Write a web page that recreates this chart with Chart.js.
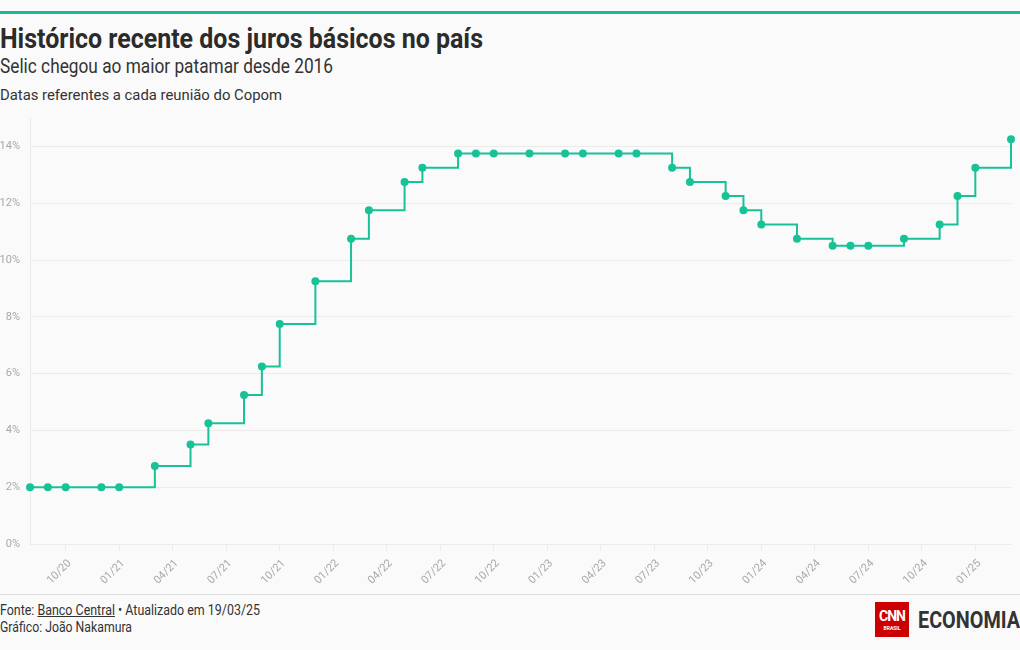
<!DOCTYPE html>
<html>
<head>
<meta charset="utf-8">
<script src="https://cdn.jsdelivr.net/npm/chart.js@4/dist/chart.umd.min.js"></script>
<style>
  html, body { margin: 0; padding: 0; background: #fafafa; }
  body { width: 1020px; height: 650px; position: relative; overflow: hidden; font-family: Roboto, "Noto Sans", sans-serif; color: #333; }
  .fit { position: absolute; left: 0; white-space: nowrap; transform-origin: 0 0; }
  #topbar { position: absolute; left: 0; top: 11px; width: 1020px; height: 3px; background: #1bb99a; }
  #title { top: 22px; font-size: 28px; font-weight: bold; color: #2b2b2b; }
  #subtitle { top: 54px; font-size: 20px; color: #333; }
  #note { top: 86px; font-size: 15px; color: #333; }
  #chart { position: absolute; left: 0; top: 110px; }
  #footline { position: absolute; left: 0; top: 594px; width: 1020px; height: 1px; background: #dcdcdc; }
  #src1 { top: 602px; font-size: 14px; color: #333; }
  #src2 { top: 619px; font-size: 14px; color: #333; }
  #logo-box { position: absolute; left: 875px; top: 602px; width: 34px; height: 35px; background: #cc0000; color: #fff; text-align: center; }
  #logo-cnn { position: absolute; left: 0; top: 6px; width: 34px; font-size: 14px; font-weight: bold; letter-spacing: -1px; }
  #logo-br { position: absolute; left: 0; top: 23px; width: 34px; font-size: 5px; font-weight: bold; }
  #logo-eco { left: 918px; top: 607px; font-size: 23px; font-weight: bold; color: #333; }
</style>
</head>
<body>
<div id="topbar"></div>
<div class="fit" id="title" data-w="483">Histórico recente dos juros básicos no país</div>
<div class="fit" id="subtitle" data-w="333">Selic chegou ao maior patamar desde 2016</div>
<div class="fit" id="note" data-w="282">Datas referentes a cada reunião do Copom</div>
<canvas id="chart" width="1020" height="484"></canvas>
<div id="footline"></div>
<div class="fit" id="src1" data-w="260">Fonte: <u>Banco Central</u> • Atualizado em 19/03/25</div>
<div class="fit" id="src2" data-w="132">Gráfico: João Nakamura</div>
<div id="logo-box"><div id="logo-cnn">CNN</div><div id="logo-br">BRASIL</div></div>
<div class="fit" id="logo-eco" data-w="102">ECONOMIA</div>
<script>
// Copom meeting months and Selic target rate (% a.a.)
const meetingMonths = [
  '2020-08', '2020-09', '2020-10', '2020-12', '2021-01', '2021-03', '2021-05', '2021-06',
  '2021-08', '2021-09', '2021-10', '2021-12', '2022-02', '2022-03', '2022-05', '2022-06',
  '2022-08', '2022-09', '2022-10', '2022-12', '2023-02', '2023-03', '2023-05', '2023-06',
  '2023-08', '2023-09', '2023-11', '2023-12', '2024-01', '2024-03', '2024-05', '2024-06',
  '2024-07', '2024-09', '2024-11', '2024-12', '2025-01', '2025-03'
];
const selicRates = [
  2.00, 2.00, 2.00, 2.00, 2.00, 2.75, 3.50, 4.25,
  5.25, 6.25, 7.75, 9.25, 10.75, 11.75, 12.75, 13.25,
  13.75, 13.75, 13.75, 13.75, 13.75, 13.75, 13.75, 13.75,
  13.25, 12.75, 12.25, 11.75, 11.25, 10.75, 10.50, 10.50,
  10.50, 10.75, 11.25, 12.25, 13.25, 14.25
];
const xTickLabels = ['10/20', '01/21', '04/21', '07/21', '10/21', '01/22', '04/22', '07/22', '10/22',
  '01/23', '04/23', '07/23', '10/23', '01/24', '04/24', '07/24', '10/24', '01/25'];
const yTickValues = [0, 2, 4, 6, 8, 10, 12, 14];

const lineColor = '#17c297';
const tickColor = '#a8a8a8';
const gridColor = '#ebebeb';

// month counter so the x axis can be linear (no date adapter available)
function monthIndex(ym) {
  const [y, m] = ym.split('-').map(Number);
  return y * 12 + (m - 1);
}
function labelIndex(label) {
  const [m, y] = label.split('/').map(Number);
  return (2000 + y) * 12 + (m - 1);
}
function indexLabel(v) {
  const y = Math.floor(v / 12) - 2000;
  const m = v % 12 + 1;
  return String(m).padStart(2, '0') + '/' + String(y).padStart(2, '0');
}

const points = meetingMonths.map((m, i) => ({ x: monthIndex(m), y: selicRates[i] }));

new Chart(document.getElementById('chart'), {
  type: 'line',
  data: {
    datasets: [{
      data: points,
      borderColor: lineColor,
      backgroundColor: lineColor,
      borderWidth: 2,
      stepped: true,
      pointRadius: 4,
      pointBorderWidth: 0,
      pointBackgroundColor: lineColor,
      clip: false
    }]
  },
  options: {
    responsive: false,
    animation: false,
    layout: { padding: { top: 8, right: 9, left: 0, bottom: 0 } },
    plugins: { legend: { display: false }, tooltip: { enabled: false } },
    scales: {
      x: {
        type: 'linear',
        min: monthIndex(meetingMonths[0]),
        max: monthIndex(meetingMonths[meetingMonths.length - 1]),
        afterBuildTicks: (scale) => {
          scale.ticks = xTickLabels.map(l => ({ value: labelIndex(l) }));
        },
        afterFit: (scale) => { scale.height = 50; scale.paddingLeft = 0; scale.paddingRight = 0; },
        grid: { drawOnChartArea: false, drawTicks: true, tickLength: 7, color: gridColor },
        border: { display: true, color: gridColor },
        ticks: {
          minRotation: 45,
          maxRotation: 45,
          padding: 6,
          labelOffset: 4,
          color: tickColor,
          font: { family: 'Roboto', size: 11 },
          callback: (v) => indexLabel(v)
        }
      },
      y: {
        min: 0,
        max: 15,
        afterBuildTicks: (scale) => {
          scale.ticks = yTickValues.map(v => ({ value: v }));
        },
        afterFit: (scale) => { scale.width = 30; scale.paddingTop = 0; scale.paddingBottom = 0; },
        grid: { color: gridColor, drawTicks: false },
        border: { display: true, color: gridColor },
        ticks: {
          padding: 10,
          color: tickColor,
          font: { family: 'Roboto', size: 11 },
          callback: (v) => v + '%'
        }
      }
    }
  }
});

// squeeze the text blocks to the condensed widths of the original
document.querySelectorAll('.fit').forEach(el => {
  const w = el.getBoundingClientRect().width;
  el.style.transform = 'scaleX(' + (Number(el.dataset.w) / w) + ')';
});
</script>
</body>
</html>
